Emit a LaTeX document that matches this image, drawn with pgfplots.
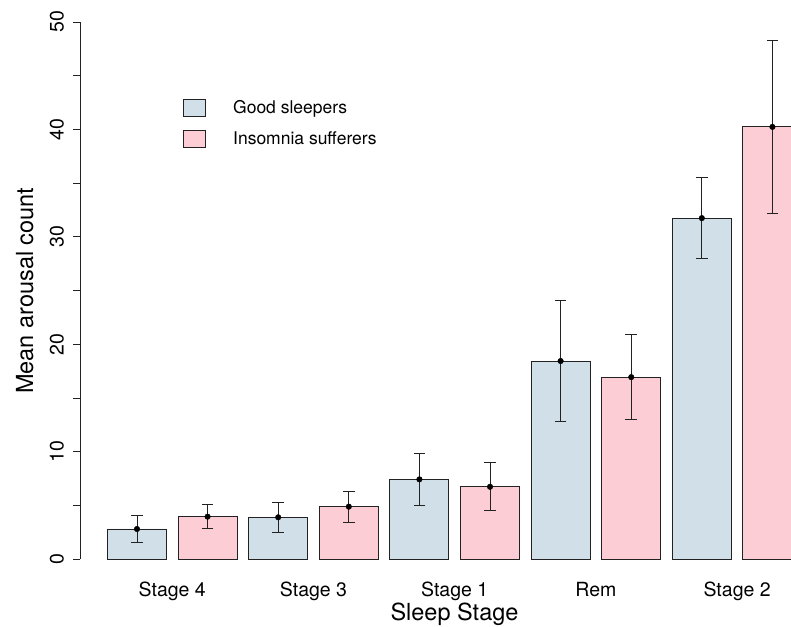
\documentclass[border=0pt]{standalone}
\usepackage{fontspec}
\setmainfont{TeX Gyre Heros}
\usepackage{pgfplots}
\pgfplotsset{compat=1.18}

\definecolor{goodfill}{HTML}{D1DFE8}
\definecolor{insomfill}{HTML}{FCCDD4}
\definecolor{edge}{HTML}{222222}

\begin{document}
\begin{tikzpicture}
\path[use as bounding box] (0,0) rectangle (791bp,627bp);
\begin{axis}[
  at={(80bp,67.7bp)}, anchor=south west,
  scale only axis, width=711bp, height=537.3bp,
  xmin=-0.807, xmax=9.263, ymin=0, ymax=50,
  enlargelimits=false,
  axis x line=bottom, axis y line=left,
  x axis line style={draw=none},
  y axis line style={-, line width=0.9bp, edge},
  xtick={0.5,2.5,4.5,6.5,8.5},
  xticklabels={Stage 4,Stage 3,Stage 1,Rem,Stage 2},
  xtick style={draw=none},
  ytick={0,10,...,50},
  minor ytick={5,15,...,45},
  tick align=outside,
  major tick length=7bp, minor tick length=7bp,
  ytick style={line width=0.9bp, edge},
  minor y tick style={line width=0.9bp, edge},
  /pgf/number format/assume math mode=true,
  tick label style={font=\fontsize{19.5bp}{21bp}\selectfont, inner sep=0pt},
  yticklabel style={xshift=-9bp, rotate=90, anchor=south},
  xticklabel style={anchor=base, yshift=-29.7bp},
  xlabel={Sleep Stage},
  ylabel={Mean arousal count},
  label style={font=\fontsize{23.5bp}{25bp}\selectfont, inner sep=0pt},
  xlabel style={at={(axis description cs:0.5267,-0.113)}, anchor=base},
  ylabel style={at={(axis description cs:-0.0661,0.5)}, anchor=base},
  legend style={draw=none, fill=none, inner sep=0pt, outer sep=0pt,
    at={(axis description cs:0.1444,0.858)}, anchor=north west,
    font=\fontsize{17.5bp}{19bp}\selectfont,
    row sep=12.6bp, cells={anchor=west}},
  legend image code/.code={%
    \draw[#1] (-47.6bp,-8.4bp) rectangle (-25.3bp,8.4bp);
    \path (0bp,0bp);},
]

% Good sleepers
\addplot[ybar, bar width=0.836, bar shift=0pt, fill=goodfill, draw=edge, line width=0.9bp]
  coordinates {(0,2.82) (2,3.91) (4,7.44) (6,18.45) (8,31.75)};
\addlegendentry{Good sleepers}

% Insomnia sufferers
\addplot[ybar, bar width=0.836, bar shift=0pt, fill=insomfill, draw=edge, line width=0.9bp]
  coordinates {(1,3.97) (3,4.90) (5,6.75) (7,16.95) (9,40.24)};
\addlegendentry{Insomnia sufferers}

% means with error bars
\addplot[only marks, mark=*, mark size=2.8bp, black, forget plot,
  error bars/.cd, y dir=both, y explicit,
  error bar style={line width=0.9bp, edge},
  error mark options={rotate=90, mark size=5.8bp, line width=0.9bp, edge}]
  coordinates {
    (0,2.82)  +- (0,1.24)
    (2,3.91)  +- (0,1.40)
    (4,7.44)  +- (0,2.42)
    (6,18.45) +- (0,5.60)
    (8,31.75) +- (0,3.75)
  };
\addplot[only marks, mark=*, mark size=2.8bp, black, forget plot,
  error bars/.cd, y dir=both, y explicit,
  error bar style={line width=0.9bp, edge},
  error mark options={rotate=90, mark size=5.8bp, line width=0.9bp, edge}]
  coordinates {
    (1,3.97)  +- (0,1.10)
    (3,4.90)  +- (0,1.43)
    (5,6.75)  +- (0,2.25)
    (7,16.95) +- (0,3.95)
    (9,40.24) +- (0,8.05)
  };
\end{axis}
\end{tikzpicture}
\end{document}
